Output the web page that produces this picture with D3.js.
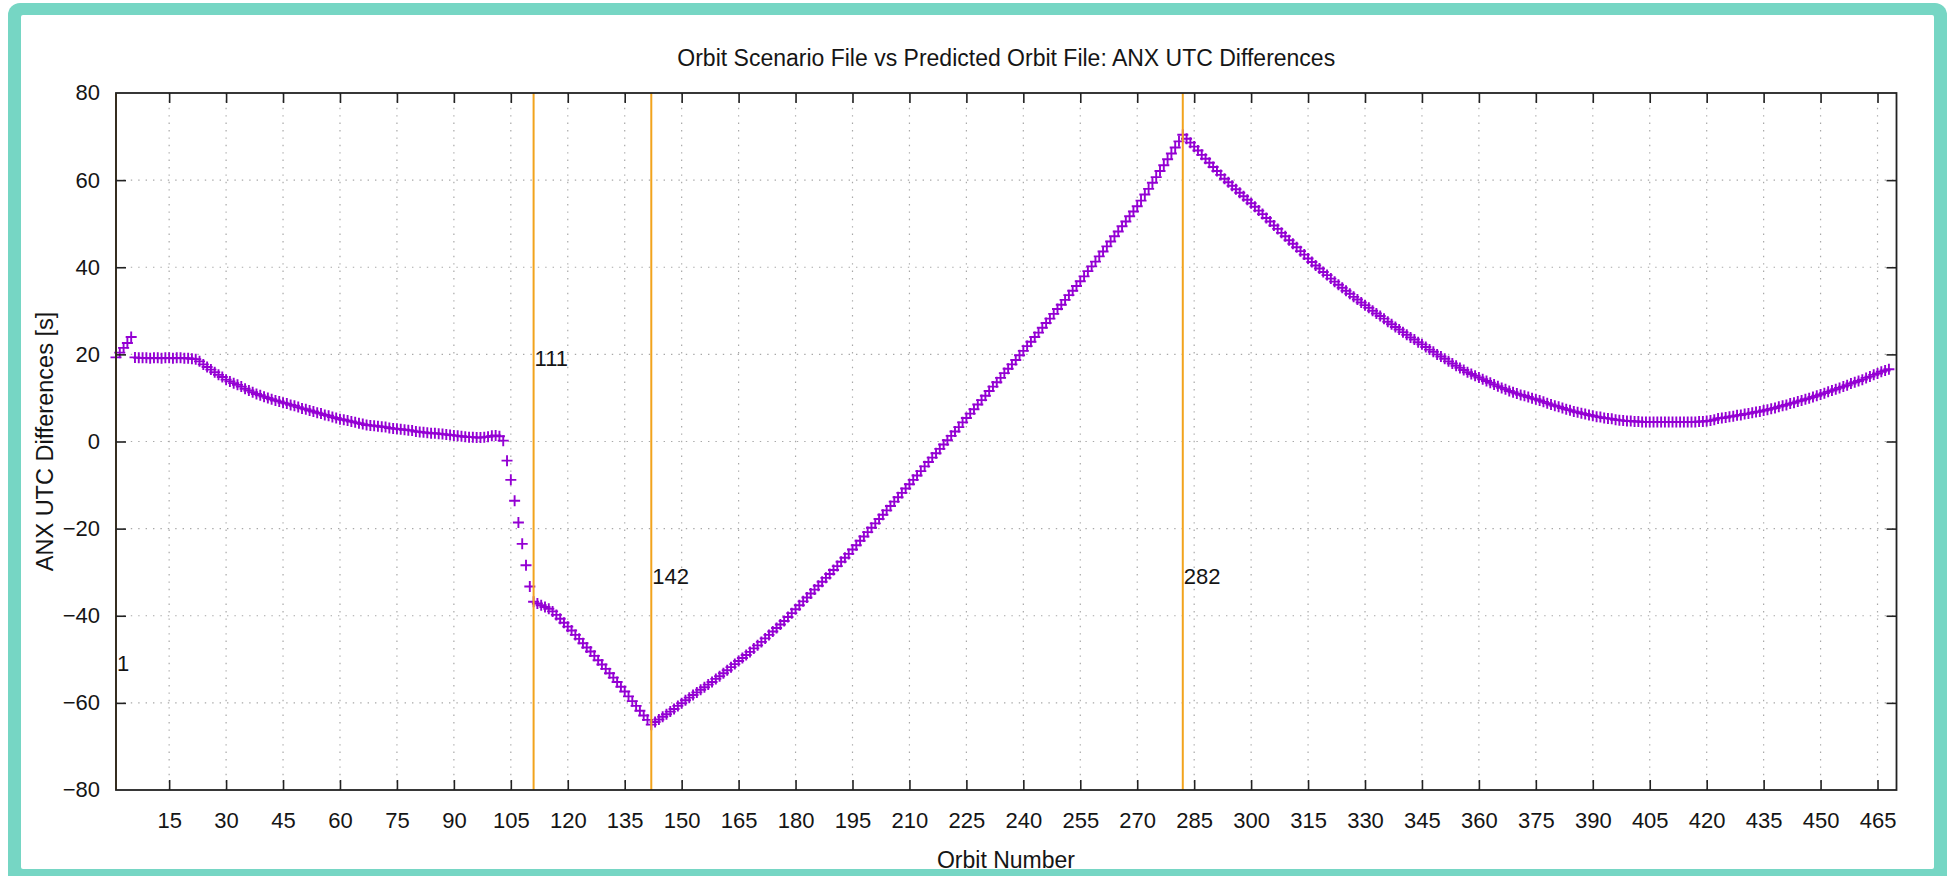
<!DOCTYPE html>
<html><head><meta charset="utf-8">
<script src="https://cdn.jsdelivr.net/npm/d3@7"></script>
<style>
html,body{margin:0;padding:0;background:#fff;overflow:hidden}
text{font-family:"Liberation Sans",Arial,Helvetica,sans-serif;fill:#151515}
</style></head><body>
<svg id="chart" width="1949" height="876"></svg>
<script>
// ---- data ----
const titleText = "Orbit Scenario File vs Predicted Orbit File: ANX UTC Differences";
const xLabelText = "Orbit Number";
const yLabelText = "ANX UTC Differences [s]";
const firstOrbit = 1;
const anxDiff = [
  19.3, 20.4, 21.5, 22.6, 24.0, 19.3, 19.2, 19.2, 19.2, 19.1,
  19.2, 19.2, 19.1, 19.2, 19.2, 19.1, 19.2, 19.2, 19.1, 19.1,
  19.0, 18.9, 18.4, 17.7, 17.1, 16.5, 15.9, 15.3, 14.8, 14.2,
  13.8, 13.4, 13.0, 12.6, 12.1, 11.7, 11.3, 10.9, 10.6, 10.3,
  10.0, 9.7, 9.4, 9.2, 8.9, 8.7, 8.4, 8.2, 7.9, 7.6,
  7.4, 7.1, 6.9, 6.6, 6.4, 6.1, 5.9, 5.6, 5.4, 5.1,
  5.0, 4.8, 4.6, 4.4, 4.2, 4.0, 3.8, 3.7, 3.6, 3.5,
  3.4, 3.3, 3.1, 3.0, 2.9, 2.8, 2.7, 2.6, 2.5, 2.3,
  2.2, 2.1, 2.0, 1.9, 1.9, 1.8, 1.7, 1.6, 1.5, 1.4,
  1.3, 1.2, 1.1, 1.0, 1.0, 0.9, 0.9, 1.0, 1.1, 1.3,
  1.4, 1.2, 0.2, -4.4, -8.8, -13.6, -18.6, -23.5, -28.4, -33.3,
  -36.8, -37.2, -37.6, -38.0, -38.4, -39.0, -39.8, -40.7, -41.6, -42.5,
  -43.4, -44.4, -45.3, -46.3, -47.3, -48.2, -49.2, -50.2, -51.2, -52.2,
  -53.2, -54.2, -55.2, -56.3, -57.4, -58.5, -59.6, -60.7, -61.8, -62.9,
  -63.9, -65.0, -64.4, -63.8, -63.2, -62.6, -62.0, -61.4, -60.7, -60.1,
  -59.4, -58.8, -58.2, -57.6, -57.0, -56.4, -55.8, -55.2, -54.5, -53.9,
  -53.2, -52.5, -51.8, -51.1, -50.4, -49.7, -49.0, -48.3, -47.5, -46.8,
  -46.0, -45.2, -44.4, -43.6, -42.8, -42.0, -41.2, -40.3, -39.4, -38.5,
  -37.6, -36.7, -35.8, -34.9, -34.0, -33.1, -32.2, -31.3, -30.4, -29.5,
  -28.6, -27.6, -26.7, -25.8, -24.8, -23.8, -22.8, -21.8, -20.8, -19.8,
  -18.8, -17.8, -16.8, -15.8, -14.8, -13.8, -12.8, -11.8, -10.8, -9.8,
  -8.8, -7.8, -6.8, -5.7, -4.7, -3.7, -2.7, -1.7, -0.7, 0.3,
  1.3, 2.3, 3.3, 4.4, 5.4, 6.4, 7.4, 8.5, 9.5, 10.5,
  11.6, 12.6, 13.6, 14.6, 15.7, 16.7, 17.7, 18.7, 19.8, 20.8,
  21.9, 22.9, 24.0, 25.0, 26.1, 27.2, 28.2, 29.3, 30.4, 31.4,
  32.5, 33.6, 34.6, 35.7, 36.8, 37.9, 39.1, 40.2, 41.3, 42.5,
  43.6, 44.8, 45.9, 47.1, 48.2, 49.4, 50.5, 51.7, 52.8, 54.0,
  55.3, 56.7, 58.0, 59.4, 60.7, 62.1, 63.4, 64.8, 66.1, 67.5,
  68.9, 70.4, 69.5, 68.6, 67.7, 66.8, 65.8, 64.9, 64.0, 63.0,
  62.1, 61.2, 60.3, 59.5, 58.7, 57.9, 57.1, 56.3, 55.5, 54.7,
  53.9, 53.0, 52.2, 51.3, 50.5, 49.6, 48.8, 47.9, 47.1, 46.2,
  45.4, 44.6, 43.7, 42.9, 42.0, 41.2, 40.4, 39.7, 38.9, 38.2,
  37.4, 36.7, 36.0, 35.3, 34.6, 33.9, 33.2, 32.6, 31.9, 31.3,
  30.7, 30.0, 29.4, 28.8, 28.2, 27.5, 26.9, 26.3, 25.7, 25.1,
  24.5, 23.9, 23.4, 22.8, 22.3, 21.7, 21.1, 20.6, 20.0, 19.5,
  19.0, 18.4, 17.9, 17.4, 16.9, 16.4, 15.9, 15.5, 15.1, 14.7,
  14.3, 13.9, 13.5, 13.1, 12.7, 12.3, 12.0, 11.6, 11.3, 11.0,
  10.7, 10.5, 10.2, 9.9, 9.7, 9.4, 9.1, 8.8, 8.5, 8.2,
  8.0, 7.7, 7.4, 7.2, 6.9, 6.7, 6.5, 6.3, 6.1, 5.9,
  5.7, 5.6, 5.4, 5.3, 5.2, 5.0, 4.9, 4.8, 4.7, 4.7,
  4.6, 4.6, 4.5, 4.5, 4.5, 4.5, 4.5, 4.5, 4.5, 4.5,
  4.5, 4.5, 4.5, 4.5, 4.5, 4.5, 4.5, 4.6, 4.6, 4.7,
  4.8, 5.0, 5.3, 5.4, 5.5, 5.7, 5.8, 6.0, 6.1, 6.3,
  6.4, 6.6, 6.8, 6.9, 7.1, 7.3, 7.5, 7.7, 8.0, 8.2,
  8.4, 8.7, 8.9, 9.2, 9.4, 9.7, 9.9, 10.2, 10.5, 10.8,
  11.1, 11.4, 11.7, 12.0, 12.3, 12.6, 12.9, 13.3, 13.6, 13.9,
  14.2, 14.6, 14.9, 15.3, 15.6, 16.0, 16.3, 16.6
];
const xTicks = [15,30,45,60,75,90,105,120,135,150,165,180,195,210,225,240,255,270,285,300,315,330,345,360,375,390,405,420,435,450,465];
const yTicks = [-80,-60,-40,-20,0,20,40,60,80];
const xDomain = [1, 470];
const yDomain = [-80, 80];
const markerOrbits = [1, 111, 142, 282];
const markerLabelY = [-51, 19, -31, -31];

// ---- layout ----
const plot = {left:116, right:1896.5, top:93, bottom:790};
const svg = d3.select("#chart");

// frame
svg.append("rect").attr("x",8).attr("y",3).attr("width",1939).attr("height",890)
  .attr("rx",12).attr("fill","#76d6c4");
svg.append("rect").attr("x",21).attr("y",15).attr("width",1913).attr("height",854)
  .attr("rx",2).attr("fill","#ffffff");

const x = d3.scaleLinear().domain(xDomain).range([plot.left, plot.right]);
const y = d3.scaleLinear().domain(yDomain).range([plot.bottom, plot.top]);
const innerY = yTicks.filter(d=>d>yDomain[0]&&d<yDomain[1]);

// grid
const grid = svg.append("g").attr("stroke","#a8a8a8").attr("stroke-width",1.2)
  .attr("stroke-dasharray","1.4 6").attr("fill","none");
grid.selectAll(".gx").data(xTicks).join("line").attr("class","gx")
  .attr("x1",d=>x(d)).attr("x2",d=>x(d)).attr("y1",plot.bottom).attr("y2",plot.top);
grid.selectAll(".gy").data(innerY).join("line").attr("class","gy")
  .attr("x1",plot.left).attr("x2",plot.right).attr("y1",d=>y(d)).attr("y2",d=>y(d));

// points
const pts = anxDiff.map((v,i)=>({orbit:firstOrbit+i, v}));
const hs = 5.5;
svg.append("g").attr("stroke","#9400d3").attr("stroke-width",1.9).attr("fill","none")
  .selectAll("path").data(pts).join("path")
  .attr("d",d=>{const px=x(d.orbit), py=y(d.v);
    return `M${px-hs},${py}H${px+hs}M${px},${py-hs}V${py+hs}`;});

// marker lines
const mk = markerOrbits.map((o,i)=>({o, ly:markerLabelY[i]}));
svg.append("g").selectAll("line").data(mk).join("line")
  .attr("x1",d=>x(d.o)).attr("x2",d=>x(d.o)).attr("y1",plot.top).attr("y2",plot.bottom)
  .attr("stroke","#f2a31c").attr("stroke-width",2);
svg.append("g").selectAll("text").data(mk).join("text")
  .attr("x",d=>x(d.o)+1).attr("y",d=>y(d.ly)).attr("dominant-baseline","central")
  .attr("font-size",22).text(d=>String(d.o));

// axes
const fs = 22;
const axB = svg.append("g").attr("transform",`translate(0,${plot.bottom})`)
  .call(d3.axisBottom(x).tickValues(xTicks).tickSize(-10).tickPadding(22).tickFormat(d3.format("d")));
const axT = svg.append("g").attr("transform",`translate(0,${plot.top})`)
  .call(d3.axisTop(x).tickValues(xTicks).tickSize(-10).tickFormat(""));
const axL = svg.append("g").attr("transform",`translate(${plot.left},0)`)
  .call(d3.axisLeft(y).tickValues(innerY).tickSize(-10).tickPadding(16).tickFormat(d3.format("d")));
const axR = svg.append("g").attr("transform",`translate(${plot.right},0)`)
  .call(d3.axisRight(y).tickValues(innerY).tickSize(-10).tickFormat(""));
[axB,axT,axL,axR].forEach(a=>{
  a.select(".domain").remove();
  a.selectAll(".tick line").attr("stroke","#222").attr("stroke-width",1.6);
  a.selectAll("text").attr("font-size",fs).attr("font-family",null).attr("fill","#151515");
});
svg.append("g").selectAll("text").data(yTicks.filter(d=>d===yDomain[0]||d===yDomain[1])).join("text")
  .attr("x",plot.left-16).attr("y",d=>y(d)).attr("dy","0.32em").attr("text-anchor","end")
  .attr("font-size",fs).text(d=>d3.format("d")(d));

// border
svg.append("rect").attr("x",plot.left).attr("y",plot.top)
  .attr("width",plot.right-plot.left).attr("height",plot.bottom-plot.top)
  .attr("fill","none").attr("stroke","#222").attr("stroke-width",1.8);

// titles
svg.append("text").attr("x",(plot.left+plot.right)/2).attr("y",66).attr("text-anchor","middle")
  .attr("font-size",23).text(titleText);
svg.append("text").attr("x",1006).attr("y",868).attr("text-anchor","middle")
  .attr("font-size",23).text(xLabelText);
svg.append("text").attr("transform",`translate(53,${(plot.top+plot.bottom)/2}) rotate(-90)`)
  .attr("text-anchor","middle").attr("font-size",23.5).text(yLabelText);
</script>
</body></html>
